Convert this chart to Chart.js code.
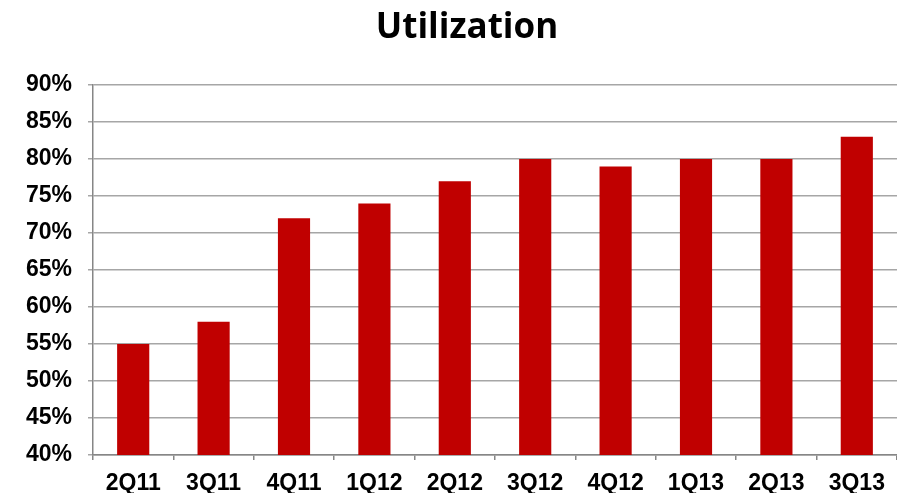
<!DOCTYPE html>
<html>
<head>
<meta charset="utf-8">
<script src="https://cdn.jsdelivr.net/npm/chart.js@4/dist/chart.umd.min.js"></script>
<style>
    html, body { margin: 0; padding: 0; background: #fff; }
    #wrap { width: 897px; height: 493px; }
</style>
</head>
<body>
<div id="wrap"><canvas id="chart"></canvas></div>
<script>
(function () {
    const quarters = ['2Q11', '3Q11', '4Q11', '1Q12', '2Q12', '3Q12', '4Q12', '1Q13', '2Q13', '3Q13'];
    const utilization = [55, 58, 72, 74, 77, 80, 79, 80, 80, 83];
    const yTicks = [40, 45, 50, 55, 60, 65, 70, 75, 80, 85, 90];
    const chartTitle = 'Utilization';

    const tickFont = { family: '"Liberation Sans", Arial, sans-serif', size: 23, weight: 'bold' };

    // title sits a bit right of the canvas centre, so draw it ourselves
    const titlePlugin = {
        id: 'offsetTitle',
        afterDraw(chart) {
            const ctx = chart.ctx;
            ctx.save();
            ctx.font = 'bold 35px "Open Sans", sans-serif';
            ctx.fillStyle = '#000';
            ctx.textAlign = 'center';
            ctx.textBaseline = 'middle';
            ctx.fillText(chartTitle, 467, 28);
            ctx.restore();
        }
    };

    new Chart(document.getElementById('chart'), {
        type: 'bar',
        data: {
            labels: quarters,
            datasets: [{
                label: chartTitle,
                data: utilization,
                backgroundColor: '#C00000',
                borderWidth: 0,
                categoryPercentage: 1.0,
                barPercentage: 0.4,
            }]
        },
        plugins: [titlePlugin],
        options: {
            responsive: true,
            maintainAspectRatio: false,
            animation: false,
            layout: { padding: { left: 0, right: 0, top: 85, bottom: 0 } },
            plugins: {
                legend: { display: false },
                tooltip: { enabled: false },
                title: { display: false },
            },
            scales: {
                x: {
                    offset: true,
                    grid: {
                        offset: true,
                        drawOnChartArea: false,
                        drawTicks: true,
                        tickLength: 5,
                        color: '#868686',
                        lineWidth: 1.5,
                    },
                    border: { color: '#868686', width: 1.5 },
                    ticks: { color: '#000', font: tickFont, padding: 10, maxRotation: 0 },
                    afterFit: (scale) => { scale.height = 38; },
                },
                y: {
                    min: 40,
                    max: 90,
                    afterBuildTicks: (scale) => { scale.ticks = yTicks.map(v => ({ value: v })); },
                    grid: {
                        color: '#A6A6A6',
                        lineWidth: 1.5,
                        drawTicks: true,
                        tickLength: 5,
                    },
                    border: { color: '#868686', width: 1.5 },
                    ticks: {
                        color: '#000',
                        font: tickFont,
                        padding: 16,
                        callback: (v) => v + '%',
                    },
                    afterFit: (scale) => { scale.width = 93; },
                },
            },
        },
    });
})();
</script>
</body>
</html>
